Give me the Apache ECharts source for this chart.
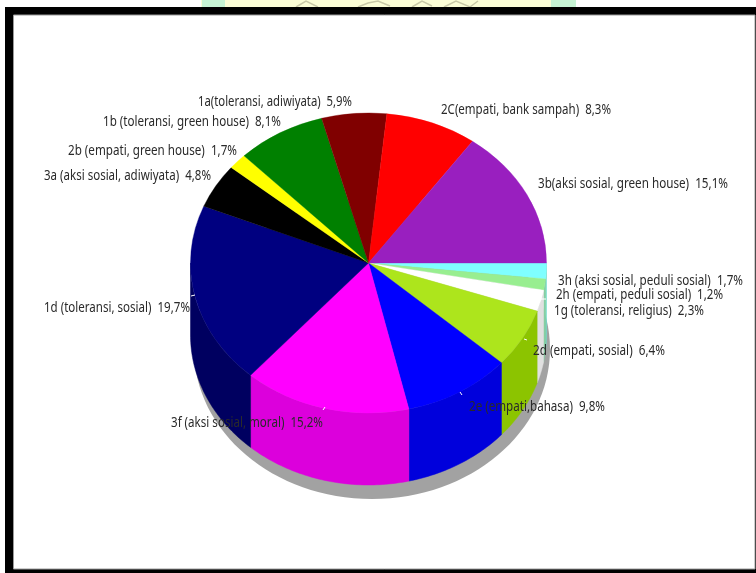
<!DOCTYPE html>
<html>
<head>
<meta charset="utf-8">
<style>html,body{margin:0;padding:0;background:#fff}#chart{width:756px;height:573px}</style>
<script src="https://cdn.jsdelivr.net/npm/echarts@6/dist/echarts.min.js"></script>
</head>
<body>
<div id="chart"></div>
<script>
// Character-education activities and their shares, clockwise from three o'clock
const categories = [
  '3h (aksi sosial, peduli sosial)', '2h (empati, peduli sosial)', '1g (toleransi, religius)',
  '2d (empati, sosial)', '2e (empati,bahasa)', '3f (aksi sosial, moral)',
  '1d (toleransi, sosial)', '3a (aksi sosial, adiwiyata)', '2b (empati, green house)',
  '1b (toleransi, green house)', '1a(toleransi, adiwiyata)', '2C(empati, bank sampah)',
  '3b(aksi sosial, green house)'
];
const shares = [1.7, 1.2, 2.3, 6.4, 9.8, 15.2, 19.7, 4.8, 1.7, 8.1, 5.9, 8.3, 15.1];
const shareText = ['1,7%', '1,2%', '2,3%', '6,4%', '9,8%', '15,2%', '19,7%', '4,8%', '1,7%', '8,1%', '5,9%', '8,3%', '15,1%'];

const topColors = ['#7fffff', '#98ee90', '#ffffff', '#ade51c', '#0000ff', '#ff00ff', '#000080',
  '#000000', '#ffff00', '#008000', '#800000', '#ff0000', '#991fbf'];
const sideColors = ['#70dcc8', '#84cfa0', '#e0e0e0', '#8cc400', '#0000dc', '#dc00dc', '#000060',
  '#000000', '#dcdc00', '#006000', '#600000', '#dc0000', '#7a1898'];

// Left edge and vertical centre of each label, with its drawn width
const labelSpots = [
  [558, 280, 185], [556, 294, 167], [554, 310, 150], [533, 350, 132], [469, 406, 136],
  [171, 422, 152], [44, 307, 146], [44, 175, 167], [68, 150, 169], [103, 121, 178],
  [198, 101, 154], [441, 109, 170], [538, 183, 190]
];
// Short white leader ticks beside some labels
const leaderTicks = [[191, 296, 195, 295], [323, 410, 325, 407], [460, 392, 462, 395], [524, 339, 527, 340], [538, 299, 546, 299]];

const cx = 368.5, cy = 263, rx = 178, ry = 150, depth = 72;
const total = shares.reduce((a, b) => a + b, 0);
const starts = [];
shares.reduce((sum, v, i) => { starts[i] = sum; return sum + v; }, 0);
const toAngle = p => (p / total) * Math.PI * 2;

function renderWall(params, api) {
  const i = params.dataIndex;
  const a0 = toAngle(starts[i]);
  const a1 = Math.min(toAngle(starts[i] + api.value(0)), Math.PI);
  if (a0 >= Math.PI) return;
  const upper = [], lower = [];
  const steps = Math.max(2, Math.ceil((a1 - a0) * 60));
  for (let s = 0; s <= steps; s++) {
    const a = a0 + (a1 - a0) * s / steps;
    const x = cx + rx * Math.cos(a), y = cy + ry * Math.sin(a);
    upper.push([x, y]);
    lower.unshift([x, y + depth]);
  }
  return {
    type: 'polygon',
    shape: { points: upper.concat(lower) },
    style: { fill: sideColors[i], stroke: sideColors[i], lineWidth: 0.5 }
  };
}

function renderTop(params, api) {
  const i = params.dataIndex;
  const a0 = toAngle(starts[i]);
  return {
    type: 'sector',
    x: cx, y: cy, scaleY: ry / rx,
    shape: { cx: 0, cy: 0, r0: 0, r: rx, startAngle: a0, endAngle: a0 + toAngle(api.value(0)), clockwise: true },
    style: { fill: topColors[i], stroke: topColors[i], lineWidth: 0.4 }
  };
}

const measure = document.createElement('canvas').getContext('2d');
const labelFont = '14px "Noto Sans", "Liberation Sans", sans-serif';
measure.font = labelFont;

function renderLabel(params) {
  const i = params.dataIndex;
  const text = categories[i] + '  ' + shareText[i];
  const [x, y, w] = labelSpots[i];
  return {
    type: 'text',
    x: x, y: y + 1.5, scaleX: w / measure.measureText(text).width,
    style: { text: text, font: labelFont, fill: '#2a2a2a', align: 'left', verticalAlign: 'middle' }
  };
}

const backdrop = [
  { type: 'rect', z: 0, shape: { x: 201, y: 0, width: 375, height: 8 }, style: { fill: '#fbfdd6' } },
  { type: 'rect', z: 0, shape: { x: 202, y: 0, width: 23, height: 8 }, style: { fill: '#c6f3d4' } },
  { type: 'rect', z: 0, shape: { x: 551, y: 0, width: 25, height: 8 }, style: { fill: '#c6f3d4' } },
  { type: 'polyline', z: 0, shape: { points: [[296, 7], [306, 1], [318, 7]] }, style: { fill: null, stroke: '#c9c9a8', lineWidth: 1.5 } },
  { type: 'polyline', z: 0, shape: { points: [[358, 7], [368, 3], [378, 1], [390, 6]] }, style: { fill: null, stroke: '#c9c9a8', lineWidth: 1.5 } },
  { type: 'polyline', z: 0, shape: { points: [[412, 7], [422, 1], [432, 6]] }, style: { fill: null, stroke: '#c9c9a8', lineWidth: 1.5 } },
  { type: 'polyline', z: 0, shape: { points: [[444, 7], [456, 1], [470, 7], [478, 1]] }, style: { fill: null, stroke: '#c9c9a8', lineWidth: 1.5 } },
  // Black picture frame; its right and bottom sides run off the page
  { type: 'rect', z: 1, shape: { x: 5, y: 7, width: 751, height: 566 }, style: { fill: '#000000' } },
  { type: 'rect', z: 1, shape: { x: 13.5, y: 15, width: 741.5, height: 554 }, style: { fill: '#ffffff', stroke: '#9a9a9a', lineWidth: 1 } },
  // Drop shadow under the pie
  { type: 'ellipse', z: 2, shape: { cx: cx + 3.5, cy: cy + depth + 14, rx: rx, ry: ry }, style: { fill: '#a2a2a2' } }
];
leaderTicks.forEach(t => backdrop.push({
  type: 'line', z: 6,
  shape: { x1: t[0], y1: t[1], x2: t[2], y2: t[3] },
  style: { stroke: '#ffffff', lineWidth: 1 }
}));

const chart = echarts.init(document.getElementById('chart'), null, { renderer: 'canvas' });
const seriesData = shares.map((v, i) => ({ name: categories[i], value: [v] }));
chart.setOption({
  animation: false,
  backgroundColor: '#ffffff',
  tooltip: { show: false },
  graphic: { elements: backdrop },
  series: [
    { type: 'custom', coordinateSystem: 'none', silent: true, z: 3, renderItem: renderWall, data: seriesData },
    { type: 'custom', coordinateSystem: 'none', silent: true, z: 4, renderItem: renderTop, data: seriesData },
    { type: 'custom', coordinateSystem: 'none', silent: true, z: 8, renderItem: renderLabel, data: seriesData }
  ]
});
</script>
</body>
</html>
